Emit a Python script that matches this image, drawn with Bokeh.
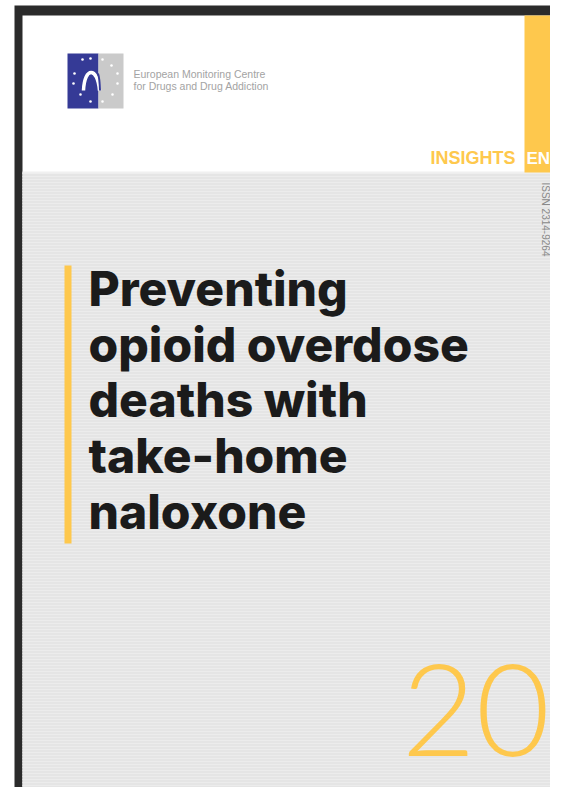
import math
from bokeh.plotting import figure
from bokeh.models import Range1d
from bokeh.core.properties import value
from bokeh.embed import file_html
from bokeh.resources import INLINE

# ---- content of the cover ----
ORG_LINES = ["European Monitoring Centre", "for Drugs and Drug Addiction"]
SERIES_LABEL = ["INSIGHTS"]
LANG_CODE = ["EN"]
ISSN = ["ISSN 2314-9264"]
TITLE_LINES = ["Preventing", "opioid overdose", "deaths with", "take-home", "naloxone"]
ISSUE_NUMBER = ["20"]

YELLOW = "#fec84d"
BLUE = "#353a96"
DARK = "#2b2b2b"
FONT = value("Liberation Sans")


def base_y(baseline, size):
    # the renderer sets the glyphs ~0.36 em below the requested alphabetic line
    return baseline - 0.36 * size


W, H = 550, 787
p = figure(width=W, height=H, x_range=Range1d(0, W), y_range=Range1d(H, 0),
           output_backend="svg", toolbar_location=None, min_border=0,
           x_axis_location=None, y_axis_location=None)
p.grid.visible = False
p.outline_line_color = None
p.background_fill_color = "white"
p.border_fill_color = "white"

# frame and page
p.quad(left=[14], right=[570], top=[5], bottom=[805], fill_color=DARK, line_color=None)
p.quad(left=[22], right=[570], top=[15], bottom=[799], fill_color="white", line_color=None)
p.quad(left=[22], right=[570], top=[172], bottom=[799], fill_color="#e5e5e5", line_color=None,
       hatch_pattern="horizontal_line", hatch_color="#ececec", hatch_scale=3, hatch_weight=1)
p.quad(left=[22], right=[570], top=[171], bottom=[173], fill_color="#f0f0f0", line_color=None)
p.quad(left=[524], right=[570], top=[15], bottom=[172], fill_color=YELLOW, line_color=None)

# logo
p.quad(left=[67], right=[98], top=[53], bottom=[108], fill_color=BLUE, line_color=None)
p.quad(left=[98], right=[123], top=[53], bottom=[108], fill_color="#cacaca", line_color=None)
star_x = [82, 90, 102, 111, 117, 117, 112, 102, 90, 80, 73, 74]
star_y = [59, 58, 59, 65, 73, 83, 94, 101, 101, 94, 83, 73]
p.scatter(star_x, star_y, size=2.6, marker="circle", fill_color="white", line_color=None)
p.bezier(x0=[83], y0=[90], x1=[99], y1=[90], cx0=[84], cy0=[66], cx1=[97], cy1=[66],
         line_color="white", line_width=3.5)
p.bezier(x0=[97.5], y0=[73], x1=[99.5], y1=[90], cx0=[98.5], cy0=[76], cx1=[99.3], cy1=[83],
         line_color=BLUE, line_width=2)
p.text(x=[133, 133], y=[base_y(77, 10.5), base_y(89.5, 10.5)], text=ORG_LINES, text_font=FONT,
       text_font_size="10.5px", text_color="#a3a3a3", text_baseline="alphabetic")

# series label
p.text(x=[515], y=[base_y(164, 18)], text=SERIES_LABEL, text_font=FONT,
       text_font_style="bold", text_font_size="18px", text_color=YELLOW,
       text_align="right", text_baseline="alphabetic")
p.text(x=[526], y=[base_y(164, 17)], text=LANG_CODE, text_font=FONT,
       text_font_style="bold", text_font_size="17px", text_color="white",
       text_align="left", text_baseline="alphabetic")

# ISSN, vertical
p.text(x=[545], y=[182], text=ISSN, angle=-math.pi / 2, text_font=FONT,
       text_font_size="10px", text_color="#8a8a8a", text_align="left", text_baseline="middle")

# title
p.quad(left=[64], right=[71], top=[265], bottom=[543], fill_color=YELLOW, line_color=None)
base = [base_y(305 + i * 55.8, 48) for i in range(len(TITLE_LINES))]
p.text(x=[88] * len(TITLE_LINES), y=base, text=TITLE_LINES, text_font=value("Inter ExtraBold"),
       text_font_size="48px", text_color="#1b1b1b", text_baseline="alphabetic")

# issue number
p.text(x=[401], y=[base_y(756, 128)], text=ISSUE_NUMBER, text_font=value("Lato Light"),
       text_font_size="128px", text_color=YELLOW, text_baseline="alphabetic")

open("out.html", "w").write(file_html(p, INLINE))
